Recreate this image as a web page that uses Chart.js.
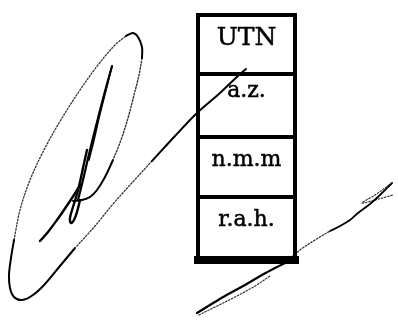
<!DOCTYPE html>
<html>
<head>
<meta charset="utf-8">
<script src="https://cdn.jsdelivr.net/npm/chart.js@4/dist/chart.umd.min.js"></script>
<style>
html,body{margin:0;padding:0;background:#fff;}
#wrap{width:398px;height:324px;position:relative;}
</style>
</head>
<body>
<div id="wrap"><canvas id="c"></canvas></div>
<script>
// ---- table (stamp box) ----
const rowLabels = ['UTN', 'a.z.', 'n.m.m', 'r.a.h.'];
const rowEdges = [15, 74, 137, 197, 260];
const boxEdges = [198, 295];
const labelBaselines = [45, 97, 166, 226];

// ---- signature strokes (x, y in picture units) ----
const boxTail = [[246,69],[240,74],[220,93],[197,113],[175,136],[152,161]];
const loopDotted1 = [[152,161],[130,185],[113,204],[95,226],[75,248]];
const loopSolid = [[75,248],[60,266],[45,284],[33,295],[22,300],[14,297],[10,288],[9,275],[11,258],[14,240]];
const loopDotted2 = [[14,240],[20,210],[30,180],[45,148],[62,118],[80,90],[98,65],[115,45],[126,36]];
const loopTop = [[126,36],[133,33],[138,37],[142,47],[142,58]];
const innerDotted = [[142,58],[139,75],[134,95],[128,118],[121,140],[113,160]];
const innerSolid = [[113,160],[105,177],[97,190],[90,197],[82,200],[73,201]];
const dAscUp = [[78,200],[83,180],[90,150],[97,122],[104,95],[112,66]];
const dAscDown = [[112,66],[109,78],[104,98],[99,118],[94,140],[89,160]];
const dLoop = [[87,150],[83,168],[80,182],[77,194],[73,207],[70,218],[71,223],[74,220],[77,212],[80,200]];
const leftDiagonal = [[40,241],[48,232],[57,220],[66,207],[74,195],[80,185]];
const tailLow = [[197,313],[210,305],[225,296],[245,285],[262,275],[275,268],[285,263]];
const tailLow2 = [[199,315],[215,307],[235,297],[255,286],[270,276]];
const tailDotted = [[285,263],[300,250],[315,240],[330,231]];
const tailHigh = [[330,231],[340,226],[350,220],[358,213],[370,204],[380,195],[392,183]];
const tailReturn = [[392,183],[375,195],[362,203],[375,200],[393,195]];

const pts = a => a.map(p => ({x: p[0], y: p[1]}));

function stroke(arr, width, dashed) {
  return {
    data: pts(arr),
    showLine: true,
    borderColor: dashed ? '#333' : '#000',
    borderWidth: width,
    borderDash: dashed ? [1.5, 1.8] : [],
    pointRadius: 0,
    tension: 0.35,
    fill: false,
    borderCapStyle: 'round',
    borderJoinStyle: 'round',
    clip: false
  };
}
function straight(arr, width) {
  const d = stroke(arr, width, false);
  d.tension = 0;
  d.borderCapStyle = 'square';
  d.borderJoinStyle = 'miter';
  return d;
}

const L = boxEdges[0], R = boxEdges[1];
const T = rowEdges[0], B = rowEdges[rowEdges.length - 1];
const datasets = [
  straight([[L,T],[R,T],[R,B],[L,B],[L,T]], 4),
  straight([[L,B],[R,B]], 8),
  ...rowEdges.slice(1, -1).map(y => straight([[L,y],[R,y]], 4)),
  stroke(boxTail, 2, false),
  stroke(loopDotted1, 1.3, true),
  stroke(loopSolid, 2, false),
  stroke(loopDotted2, 1.3, true),
  stroke(loopTop, 2, false),
  stroke(innerDotted, 1.4, true),
  stroke(innerSolid, 2, false),
  stroke(dAscUp, 2.2, false),
  stroke(dAscDown, 1.6, false),
  stroke(dLoop, 2.4, false),
  stroke(leftDiagonal, 2.4, false),
  stroke(tailLow, 2.2, false),
  stroke(tailLow2, 1.2, true),
  stroke(tailDotted, 1.3, true),
  stroke(tailHigh, 1.8, false),
  stroke(tailReturn, 1.2, true)
];

const labelPlugin = {
  id: 'rowLabels',
  afterDatasetsDraw(chart) {
    const ctx = chart.ctx;
    const xs = chart.scales.x, ys = chart.scales.y;
    const cx = xs.getPixelForValue((L + R) / 2);
    ctx.save();
    ctx.fillStyle = '#000';
    ctx.strokeStyle = '#000';
    ctx.lineWidth = 0.5;
    ctx.textAlign = 'center';
    ctx.textBaseline = 'alphabetic';
    rowLabels.forEach((t, i) => {
      ctx.font = (i === 0 ? '25px' : '22px') + ' "DejaVu Serif", serif';
      const y = ys.getPixelForValue(labelBaselines[i]);
      ctx.fillText(t, cx, y);
      ctx.strokeText(t, cx, y);
    });
    ctx.restore();
  }
};

new Chart(document.getElementById('c'), {
  type: 'scatter',
  data: { datasets },
  options: {
    responsive: true,
    maintainAspectRatio: false,
    animation: false,
    layout: { padding: 0 },
    plugins: { legend: { display: false }, tooltip: { enabled: false } },
    scales: {
      x: { type: 'linear', min: 0, max: 398, display: false },
      y: { type: 'linear', min: 0, max: 324, reverse: true, display: false }
    }
  },
  plugins: [labelPlugin]
});
</script>
</body>
</html>
